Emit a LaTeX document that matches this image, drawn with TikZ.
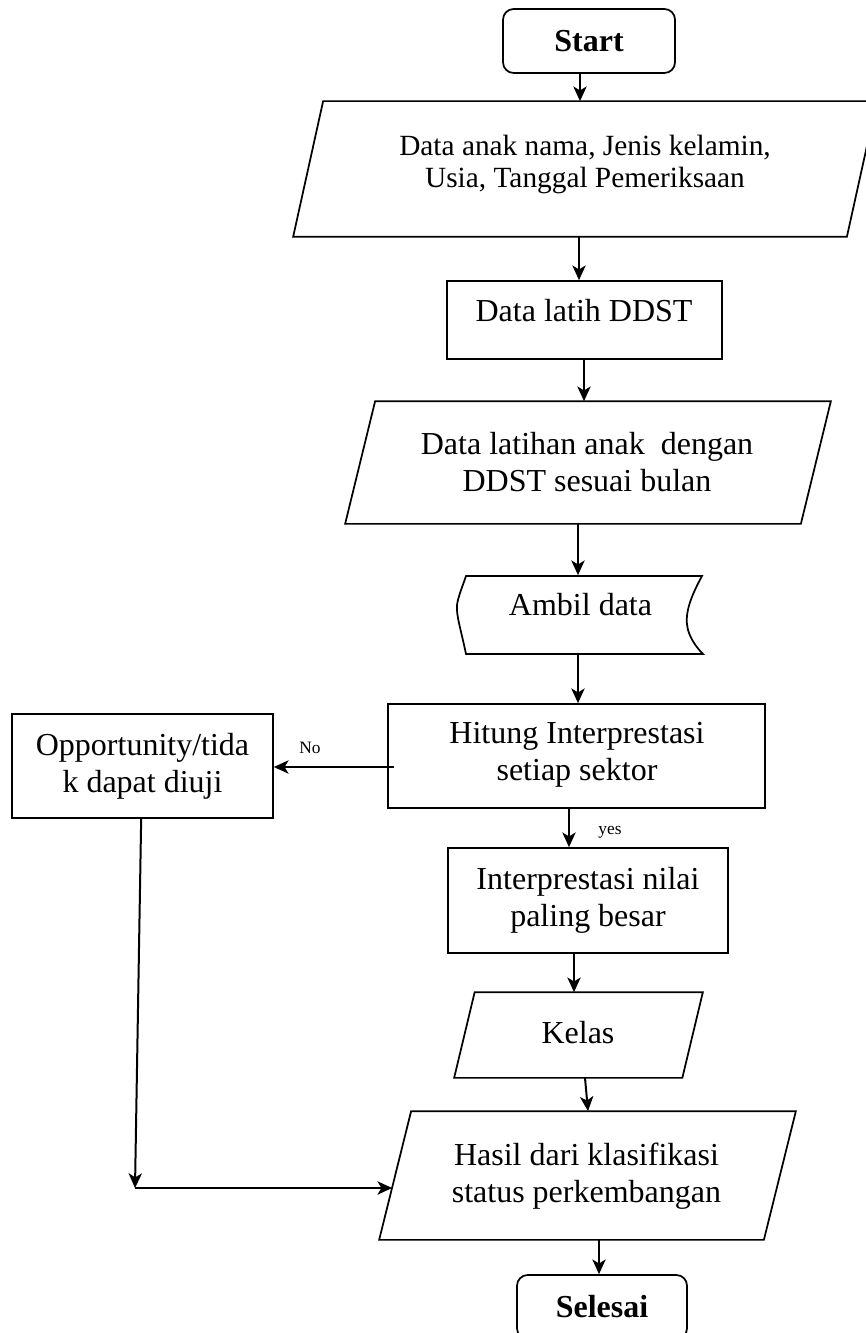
\documentclass[tikz,border=0pt]{standalone}
\usepackage{fontspec}
\setmainfont{Liberation Serif}
\usetikzlibrary{arrows.meta}
\begin{document}
\begin{tikzpicture}[x=0.75pt,y=-0.75pt,line width=1.3pt,
  term/.style={draw,rounded corners=8pt,inner sep=0pt,font=\fontsize{24}{28}\selectfont\bfseries},
  proc/.style={draw,inner sep=0pt,align=center,font=\fontsize{24}{28}\selectfont},
  ghost/.style={inner sep=0pt,align=center,font=\fontsize{24}{28}\selectfont},
  txt/.style={inner sep=0pt,align=center,font=\fontsize{24}{28}\selectfont},
  arr/.style={-{Stealth[length=11pt,width=10pt,inset=3pt]},line width=1.5pt},
  lbl/.style={inner sep=0pt,font=\fontsize{13}{15}\selectfont}]
\useasboundingbox (0,0) rectangle (865,1333);

% nodes
\node[term,minimum width=129pt,minimum height=48pt] (start) at (589,41) {Start};

\node[ghost,minimum width=436.5pt,minimum height=100.5pt] (p1) at (585,169) {};
\draw (p1.south west) -- ([xshift=-22.5pt]p1.south east) -- (p1.north east) -- ([xshift=22.5pt]p1.north west) -- cycle;
\node[txt,font=\fontsize{22}{24}\selectfont] (p1t) at (585,164) {Data anak nama, Jenis kelamin,\\Usia, Tanggal Pemeriksaan};

\node[proc,minimum width=206.25pt,minimum height=58.5pt] (r1) at (584.5,320) {};
\node[txt] (r1t) at (584,311) {Data latih DDST};

\node[ghost,minimum width=363pt,minimum height=90.75pt] (p2) at (588,462.5) {};
\draw (p2.south west) -- ([xshift=-22.5pt]p2.south east) -- (p2.north east) -- ([xshift=22.5pt]p2.north west) -- cycle;
\node[txt] (p2t) at (587,462) {Data latihan anak\ \ dengan\\DDST sesuai bulan};

\node[ghost,minimum width=184.5pt,minimum height=58.5pt] (ad) at (580,615) {};
\draw (466,576) -- (702,576)
  .. controls (690,598) and (684,615) .. (688,630)
  .. controls (691,640) and (697,648) .. (703,654)
  -- (466,654)
  .. controls (461,630) and (456,615) .. (457,605)
  .. controls (458,597) and (463,585) .. (466,576) -- cycle;
\node[txt] (adt) at (580.5,605) {Ambil data};

\node[proc,minimum width=282.75pt,minimum height=78pt] (hit) at (576.5,756) {};
\node[txt] (hitt) at (577,754.5) {Hitung Interprestasi\\setiap sektor};

\node[proc,minimum width=195.75pt,minimum height=78pt] (opp) at (142.5,766) {Opportunity/tida\\k dapat diuji};

\node[proc,minimum width=210pt,minimum height=78.75pt] (interp) at (588,900.5) {Interprestasi nilai\\paling besar};

\node[ghost,minimum width=185.25pt,minimum height=63pt] (kelas) at (578.5,1035) {};
\draw (kelas.south west) -- ([xshift=-15.4pt]kelas.south east) -- (kelas.north east) -- ([xshift=15.4pt]kelas.north west) -- cycle;
\node[txt] (kelast) at (578,1033) {Kelas};

\node[ghost,minimum width=311.25pt,minimum height=95.25pt] (hasil) at (587.5,1175.5) {};
\draw (hasil.south west) -- ([xshift=-24pt]hasil.south east) -- (hasil.north east) -- ([xshift=24pt]hasil.north west) -- cycle;
\node[txt] (hasilt) at (586.5,1176.5) {Hasil dari klasifikasi\\status perkembangan};

\node[term,minimum width=127.5pt,minimum height=48pt] (sel) at (602,1307) {Selesai};

% connectors
\draw[arr] (start.south -| 580,0) -- (p1.north -| 580,0);
\draw[arr] (p1.south -| 579,0) -- (r1.north -| 579,0);
\draw[arr] (r1.south -| 584,0) -- (p2.north -| 584,0);
\draw[arr] (p2.south -| 578,0) -- (ad.north -| 578,0);
\draw[arr] (ad.south -| 578,0) -- (hit.north -| 578,0);
\draw[arr] ([xshift=5.25pt,yshift=-8.25pt]hit.west) -- ([yshift=-0.75pt]opp.east);
\node[lbl] (nolbl) at (310,748) {No};
\draw[arr] (hit.south -| 569,0) -- (interp.north -| 569,0);
\node[lbl] (yeslbl) at (610,832) {yes};
\draw[arr] (interp.south -| 574,0) -- (kelas.north -| 574,0);
\draw[arr] (kelas.south -| 585,0) -- (hasil.north -| 588,0);
\coordinate (j) at (135,1188);
\draw[arr] ([xshift=-1pt]opp.south) -- (j);
\draw[arr] (j) -- ([xshift=9.75pt]hasil.west |- j);
\draw[arr] (hasil.south -| 599,0) -- (sel.north -| 599,0);
\end{tikzpicture}
\end{document}
